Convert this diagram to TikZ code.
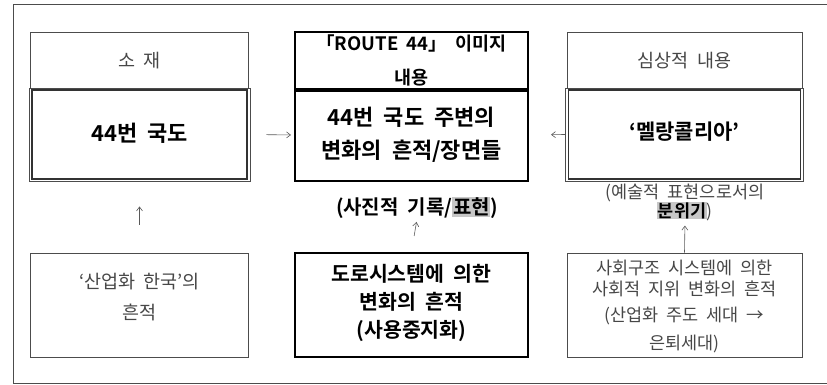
\documentclass[tikz,border=0pt]{standalone}
\usepackage{fontspec}
\setmainfont{Noto Sans CJK KR}[BoldFont={Noto Sans CJK KR Bold},WordSpace={2}]
\usetikzlibrary{arrows.meta,calc}
\newcommand\hlt[1]{{\setlength{\fboxsep}{0.6pt}\colorbox{black!22}{#1}}}
\begin{document}
\begin{tikzpicture}[x=1pt,y=-1pt,
  frame/.style={draw=black!70,line width=1pt},
  thinbox/.style={draw=black!70,line width=0.9pt,inner sep=0pt},
  thickbox/.style={draw=black,line width=2pt,inner sep=0pt},
  innerline/.style={draw=black!80,line width=1.6pt},
  regtxt/.style={text=black!72,align=center,inner sep=0pt,font=\fontsize{18.5}{22}\selectfont},
  boldtxt/.style={text=black,align=center,inner sep=0pt,font=\bfseries\fontsize{22}{33}\selectfont},
  conn/.style={draw=black!65,line width=0.6pt,-{Straight Barb[length=4pt,width=6pt]}}]
\useasboundingbox (0,0) rectangle (827,385);
\draw[frame] (827,5) -- (13,5) -- (13,383) -- (827,383);

% left column
\node[thinbox,minimum width=218,minimum height=56] (lh) at (139.5,60) {};
\node[thinbox,minimum width=221,minimum height=93] (lm) at (139.5,134.5) {};
\draw[innerline] ($(lm.north west)+(3.5,2.5)$) rectangle ($(lm.south east)+(-3.5,-2.5)$);
\node[thinbox,minimum width=218,minimum height=104] (lb) at (139.5,305) {};
\node[regtxt] (lht) at (139.5,61) {소 재};
\node[boldtxt] (lmt) at (139.5,133) {44번 국도};
\node[regtxt,font=\fontsize{18.5}{31}\selectfont] (lbt) at (139.5,297) {‘산업화 한국’의\\흔적};

% center column
\node[thickbox,minimum width=233,minimum height=57] (ch) at (411.5,60.5) {};
\node[thickbox,minimum width=233,minimum height=92] (cm) at (411.5,135) {};
\draw[black,line width=1.2pt] ($(cm.north west)+(0,3)$) -- ($(cm.north east)+(0,3)$);
\node[thickbox,line width=2.4pt,minimum width=233,minimum height=104] (cb) at (411.5,305) {};
\node[boldtxt,font=\bfseries\fontsize{18.5}{34}\selectfont] (cht) at (411.5,60.5) {「ROUTE 44」 이미지\\내용};
\node[boldtxt] (cmt) at (411.5,135) {44번 국도 주변의\\변화의 흔적/장면들};
\node[boldtxt,font=\bfseries\fontsize{20.5}{28}\selectfont] (cbt) at (411.5,303) {도로시스템에 의한\\변화의 흔적\\(사용중지화)};
\node[boldtxt,font=\bfseries\fontsize{20}{22}\selectfont] (ccap) at (417,208) {(사진적 기록/\hlt{표현})};

% right column
\node[thinbox,minimum width=235,minimum height=56] (rh) at (684.5,60) {};
\node[thinbox,minimum width=238,minimum height=93] (rm) at (684.5,134.5) {};
\draw[innerline] ($(rm.north west)+(3.5,2.5)$) rectangle ($(rm.south east)+(-3.5,-2.5)$);
\node[thinbox,minimum width=235,minimum height=104] (rb) at (684.5,305) {};
\node[regtxt] (rht) at (684.5,61) {심상적 내용};
\node[boldtxt,font=\bfseries\fontsize{21}{30}\selectfont] (rmt) at (684.5,132) {‘멜랑콜리아’};
\node[regtxt,font=\fontsize{17.5}{19}\selectfont] (rcap) at (685,202) {(예술적 표현으로서의\\\hlt{\bfseries\color{black}분위기})};
\node[regtxt,font=\fontsize{17.5}{21}\selectfont] (rbt) at (684.5,306) {사회구조 시스템에 의한\\사회적 지위 변화의 흔적\\[5pt](산업화 주도 세대 →\\[7pt]은퇴세대)};

% connectors
\draw[conn,shorten <=16pt,shorten >=3pt] (lm.east) -- (cm.west);
\draw[conn,shorten <=0pt,shorten >=22pt] (rm.west) -- (cm.east);
\draw[conn,shorten <=28pt,shorten >=25pt] (lb.north) -- (lm.south);
\draw[conn,shorten <=16pt,shorten >=3pt] (cb.north) -- (ccap.south);
\draw[conn,shorten <=0pt,shorten >=5pt] (rb.north) -- (rcap.south);
\end{tikzpicture}
\end{document}
